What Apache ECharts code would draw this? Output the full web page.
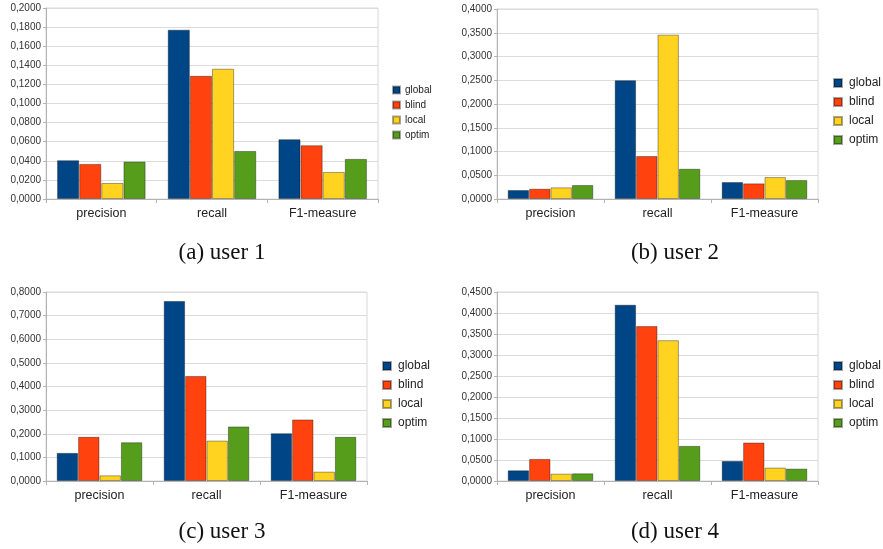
<!DOCTYPE html>
<html><head><meta charset="utf-8">
<script src="https://cdn.jsdelivr.net/npm/echarts@6/dist/echarts.min.js"></script>
<style>html,body{margin:0;padding:0;background:#fff}#c{width:883px;height:549px}</style>
</head><body><div id="c"></div>
<script>
const categories = ['precision', 'recall', 'F1-measure'];
const seriesNames = ['global', 'blind', 'local', 'optim'];
const colors = ['#004586', '#ff420e', '#ffd320', '#579d1c'];

// user 1 (a)
const user1_global = [0.0406, 0.1773, 0.0626];
const user1_blind  = [0.0367, 0.1290, 0.0563];
const user1_local  = [0.0168, 0.1364, 0.0283];
const user1_optim  = [0.0392, 0.0503, 0.0420];
// user 2 (b)
const user2_global = [0.0189, 0.2501, 0.0357];
const user2_blind  = [0.0217, 0.0904, 0.0329];
const user2_local  = [0.0245, 0.3460, 0.0462];
const user2_optim  = [0.0294, 0.0637, 0.0399];
// user 3 (c)
const user3_global = [0.1190, 0.7620, 0.2025];
const user3_blind  = [0.1870, 0.4446, 0.2605];
const user3_local  = [0.0240, 0.1710, 0.0396];
const user3_optim  = [0.1640, 0.2310, 0.1870];
// user 4 (d)
const user4_global = [0.0255, 0.4197, 0.0478];
const user4_blind  = [0.0526, 0.3688, 0.0916];
const user4_local  = [0.0175, 0.3353, 0.0319];
const user4_optim  = [0.0183, 0.0836, 0.0295];

const captions = ['(a) user 1', '(b) user 2', '(c) user 3', '(d) user 4'];
const axisMax = [0.2, 0.4, 0.8, 0.45];
const axisInterval = [0.02, 0.05, 0.1, 0.05];

const panels = [
  [user1_global, user1_blind, user1_local, user1_optim],
  [user2_global, user2_blind, user2_local, user2_optim],
  [user3_global, user3_blind, user3_local, user3_optim],
  [user4_global, user4_blind, user4_local, user4_optim]
];

const grids = [
  {left: 46, top: 8, width: 332, height: 191},
  {left: 497, top: 9, width: 321, height: 190},
  {left: 46, top: 292, width: 321, height: 189},
  {left: 497, top: 292, width: 321, height: 189}
];
const legends = [
  {left: 392, top: 85, itemGap: 5, itemSize: 7, fontSize: 10, textPad: 0},
  {left: 833, top: 77, itemGap: 7, itemSize: 8, fontSize: 12, textPad: 2},
  {left: 382, top: 360, itemGap: 7, itemSize: 8, fontSize: 12, textPad: 2},
  {left: 833, top: 360, itemGap: 7, itemSize: 8, fontSize: 12, textPad: 2}
];
const captionPos = [[222, 253], [675, 253], [222, 532], [675, 532]];

const fmt = v => v.toFixed(4).replace('.', ',');

const option = {
  animation: false,
  backgroundColor: '#fff',
  textStyle: {fontFamily: 'Liberation Sans'},
  grid: grids.map(g => Object.assign({show: true, borderColor: '#d8d8d8', borderWidth: 1, backgroundColor: 'transparent'}, g)),
  xAxis: grids.map((g, i) => ({
    type: 'category', gridIndex: i, data: categories,
    axisLine: {lineStyle: {color: '#b3b3b3'}},
    axisTick: {show: true, length: 4, lineStyle: {color: '#b3b3b3'}},
    axisLabel: {color: '#222', fontSize: 12.5, margin: 8}
  })),
  yAxis: grids.map((g, i) => ({
    type: 'value', gridIndex: i, min: 0, max: axisMax[i], interval: axisInterval[i],
    axisLine: {show: true, lineStyle: {color: '#b3b3b3'}},
    axisTick: {show: true, length: 3, lineStyle: {color: '#b3b3b3'}},
    axisLabel: {color: '#333', fontSize: 10, margin: 5, formatter: fmt},
    splitLine: {lineStyle: {color: '#dcdcdc'}}
  })),
  legend: legends.map((l, i) => ({
    orient: 'vertical', left: l.left, top: l.top, itemGap: l.itemGap, padding: 0,
    itemWidth: l.itemSize, itemHeight: l.itemSize, icon: 'rect',
    data: seriesNames, selectedMode: false,
    textStyle: {fontSize: l.fontSize, lineHeight: l.fontSize, color: '#222', padding: [0, 0, 0, l.textPad]}
  })),
  series: [],
  graphic: captions.map((t, i) => ({
    type: 'text', x: captionPos[i][0], y: captionPos[i][1],
    style: {text: t, fill: '#111', font: '23px "Liberation Serif"', textAlign: 'center', textVerticalAlign: 'middle'}
  }))
};

panels.forEach((vals, p) => {
  vals.forEach((arr, s) => {
    option.series.push({
      type: 'bar', name: seriesNames[s], xAxisIndex: p, yAxisIndex: p,
      data: arr, barGap: '0%', barCategoryGap: '20%',
      itemStyle: {color: colors[s], borderColor: 'rgba(0,0,0,0.35)', borderWidth: 1}
    });
  });
});

const chart = echarts.init(document.getElementById('c'));
chart.setOption(option);
</script>
</body></html>
